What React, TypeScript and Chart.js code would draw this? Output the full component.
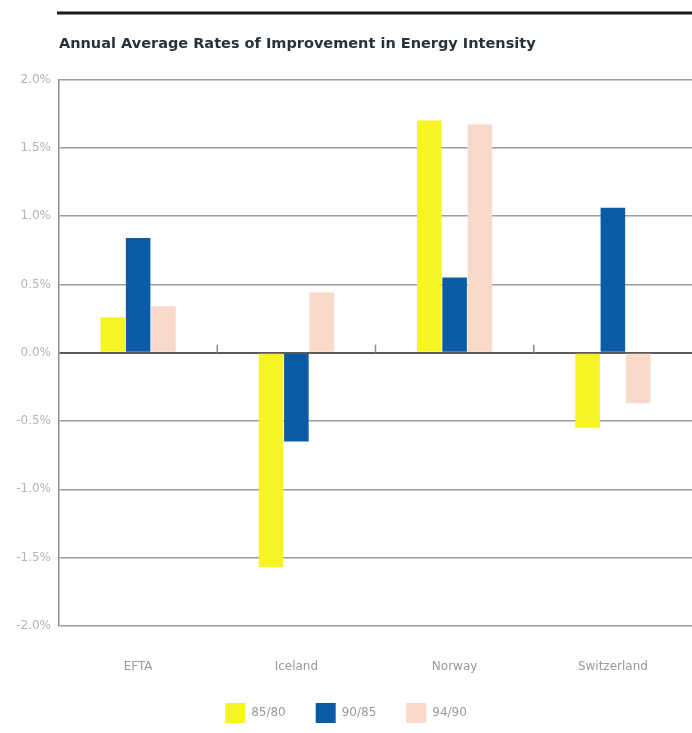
import React, { useEffect, useRef } from 'react';
import { Chart, registerables } from 'chart.js';

Chart.register(...registerables);

const chartTitle = 'Annual Average Rates of Improvement in Energy Intensity';
const categories = ['EFTA', 'Iceland', 'Norway', 'Switzerland'];
const seriesNames = ['85/80', '90/85', '94/90'];
const values8580 = [0.26, -1.57, 1.70, -0.55];
const values9085 = [0.84, -0.65, 0.55, 1.06];
const values9490 = [0.34, 0.44, 1.67, -0.37];
const yTickValues = [-2, -1.5, -1, -0.5, 0, 0.5, 1, 1.5, 2];
const seriesColors = ['#f7f424', '#0a5ca6', '#f9d9c9'];

const decorPlugin = {
  id: 'decor',
  beforeDraw(chart: any) {
    const { ctx, chartArea, width, height } = chart;
    ctx.save();
    ctx.fillStyle = '#ffffff';
    ctx.fillRect(0, 0, width, height);
    ctx.strokeStyle = '#1a1a1a';
    ctx.lineWidth = 3;
    ctx.beginPath();
    ctx.moveTo(chartArea.left - 2, 13);
    ctx.lineTo(width, 13);
    ctx.stroke();
    ctx.restore();
  },
  afterDatasetsDraw(chart: any) {
    const { ctx } = chart;
    const x = chart.scales.x;
    const y = chart.scales.y;
    const y0 = y.getPixelForValue(0);
    ctx.save();
    ctx.strokeStyle = '#8a8a8a';
    ctx.lineWidth = 1.5;
    for (let i = 0; i < categories.length - 1; i++) {
      const xb = (x.getPixelForValue(i) + x.getPixelForValue(i + 1)) / 2;
      ctx.beginPath();
      ctx.moveTo(xb, y0 - 8);
      ctx.lineTo(xb, y0);
      ctx.stroke();
    }
    ctx.restore();
  },
};

export default function App() {
  const canvasRef = useRef<HTMLCanvasElement | null>(null);

  useEffect(() => {
    if (!canvasRef.current) return;
    const seriesValues = [values8580, values9085, values9490];
    const chart = new Chart(canvasRef.current, {
      type: 'bar',
      data: {
        labels: categories,
        datasets: seriesNames.map((name, i) => ({
          label: name,
          data: seriesValues[i],
          backgroundColor: seriesColors[i],
          borderWidth: 0,
          categoryPercentage: 0.48,
          barPercentage: 0.97,
        })),
      },
      options: {
        responsive: false,
        animation: false,
        layout: { padding: { left: 0, right: 0, top: 0, bottom: 0 } },
        plugins: {
          title: {
            display: true,
            text: chartTitle,
            align: 'start',
            fullSize: false,
            color: '#26333d',
            font: { family: 'DejaVu Sans', size: 14.5, weight: 'bold' },
            padding: { top: 36, bottom: 26 },
          },
          legend: {
            position: 'bottom',
            labels: {
              boxWidth: 20,
              boxHeight: 20,
              padding: 30,
              color: '#9a9a9a',
              font: { family: 'DejaVu Sans', size: 12 },
            },
          },
          tooltip: { enabled: false },
        },
        scales: {
          x: {
            type: 'category',
            grid: { display: false, drawTicks: false },
            border: { display: false },
            ticks: {
              color: '#999999',
              font: { family: 'DejaVu Sans', size: 12 },
              padding: 34,
              maxRotation: 0,
            },
            afterFit(scale: any) {
              scale.height = 47;
            },
          },
          y: {
            min: -2,
            max: 2,
            afterBuildTicks(scale: any) {
              scale.ticks = yTickValues.map((v) => ({ value: v }));
            },
            afterFit(scale: any) {
              scale.width = 59;
            },
            grid: {
              drawTicks: false,
              color: (c: any) => (c.tick && c.tick.value === 0 ? '#5a5a5a' : '#9c9c9c'),
              lineWidth: (c: any) => (c.tick && c.tick.value === 0 ? 2 : 1.5),
            },
            border: { display: true, color: '#8c8c8c', width: 1.5 },
            ticks: {
              color: '#b3b3b3',
              font: { family: 'DejaVu Sans', size: 12 },
              padding: 8,
              callback: (v: any) => Number(v).toFixed(1) + '%',
            },
          },
        },
      },
      plugins: [decorPlugin],
    } as any);
    return () => chart.destroy();
  }, []);

  return (
    <div style={{ position: 'absolute', left: 0, top: 0, width: 692, height: 733, background: '#fff' }}>
      <canvas ref={canvasRef} width={692} height={733} style={{ display: 'block' }} />
    </div>
  );
}
